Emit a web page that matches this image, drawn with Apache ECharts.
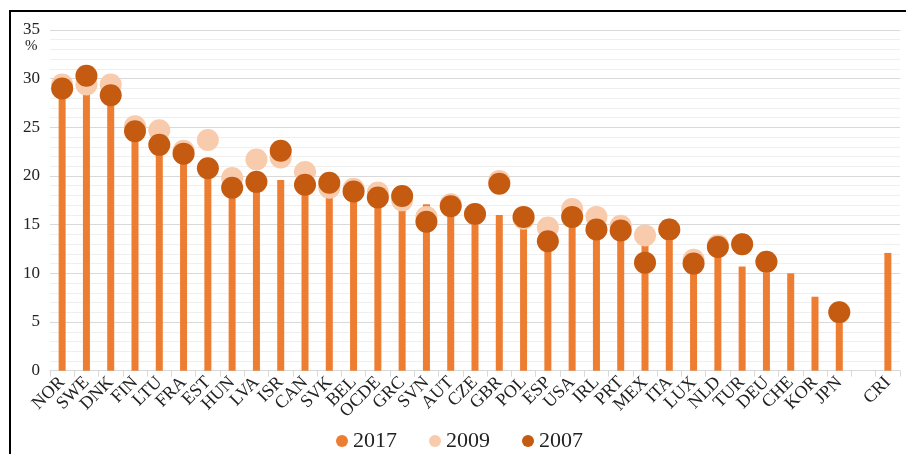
<!DOCTYPE html>
<html>
<head>
<meta charset="utf-8">
<script src="https://cdn.jsdelivr.net/npm/echarts@6/dist/echarts.min.js"></script>
<style>
  html, body { margin: 0; padding: 0; background: #fff; }
  #chart { width: 906px; height: 454px; }
</style>
</head>
<body>
<div id="chart"></div>
<script>
// countries, with an empty slot before CRI
const categories = ['NOR', 'SWE', 'DNK', 'FIN', 'LTU', 'FRA', 'EST', 'HUN', 'LVA', 'ISR',
  'CAN', 'SVK', 'BEL', 'OCDE', 'GRC', 'SVN', 'AUT', 'CZE', 'GBR', 'POL',
  'ESP', 'USA', 'IRL', 'PRT', 'MEX', 'ITA', 'LUX', 'NLD', 'TUR', 'DEU',
  'CHE', 'KOR', 'JPN', '', 'CRI'];

const values2017 = [29.0, 29.0, 28.0, 24.5, 23.0, 22.0, 20.8, 18.8, 19.4, 19.6,
  19.0, 19.0, 18.3, 17.8, 17.8, 17.1, 16.8, 16.0, 16.0, 15.6,
  13.5, 15.7, 14.5, 14.3, 13.0, 14.5, 11.0, 12.7, 10.7, 11.1,
  10.0, 7.6, 6.0, '-', 12.1];

const values2009 = [29.4, 29.4, 29.4, 25.1, 24.7, 22.6, 23.7, 19.8, 21.7, 21.9,
  20.4, 18.8, 18.7, 18.3, 17.5, 15.8, 17.1, 16.1, 19.5, 15.6,
  14.7, 16.6, 15.8, 14.9, 13.9, 14.5, 11.4, 12.9, 13.0, 11.2,
  '-', '-', 6.0, '-', '-'];

const values2007 = [29.0, 30.3, 28.3, 24.6, 23.2, 22.3, 20.8, 18.8, 19.4, 22.6,
  19.1, 19.3, 18.4, 17.8, 17.95, 15.3, 16.9, 16.1, 19.2, 15.8,
  13.3, 15.8, 14.5, 14.4, 11.1, 14.5, 11.0, 12.7, 13.0, 11.2,
  '-', '-', 6.0, '-', '-'];

const yTicks = [0, 5, 10, 15, 20, 25, 30, 35];

const font = "'Liberation Serif', 'Times New Roman', serif";
const chart = echarts.init(document.getElementById('chart'));

chart.setOption({
  animation: false,
  textStyle: { fontFamily: font, color: '#222' },
  grid: { left: 50, right: 6, top: 30, bottom: 83.3 },
  graphic: [
    {
      type: 'rect',
      shape: { x: 10, y: 11, width: 2000, height: 2000 },
      style: { fill: 'none', stroke: '#000', lineWidth: 2 },
      silent: true
    },
    {
      type: 'text',
      left: 25,
      top: 39,
      style: { text: '%', font: '15px ' + font, fill: '#222' }
    }
  ],
  legend: {
    left: 331,
    top: 425,
    icon: 'circle',
    itemWidth: 12,
    itemHeight: 12,
    itemGap: 32,
    textStyle: { fontFamily: font, fontSize: 22, color: '#222' },
    data: ['2017', '2009', '2007']
  },
  xAxis: {
    type: 'category',
    data: categories,
    axisLine: { lineStyle: { color: '#d9d9d9', width: 1 } },
    axisTick: { show: true, length: 6, lineStyle: { color: '#d9d9d9' } },
    axisLabel: {
      interval: 0,
      rotate: 45,
      margin: 9,
      fontFamily: font,
      fontSize: 18,
      color: '#222'
    }
  },
  yAxis: {
    type: 'value',
    min: yTicks[0],
    max: yTicks[yTicks.length - 1],
    interval: 5,
    axisLine: { show: false },
    axisTick: { show: false },
    axisLabel: { margin: 10, fontFamily: font, fontSize: 17, color: '#222' },
    splitLine: { lineStyle: { color: '#d9d9d9', width: 1 } },
    minorTick: { show: false, splitNumber: 5 },
    minorSplitLine: { show: true, lineStyle: { color: '#efefef', width: 1 } }
  },
  series: [
    {
      name: '2017',
      type: 'bar',
      barWidth: 7,
      itemStyle: { color: '#ED7D31' },
      data: values2017
    },
    {
      name: '2009',
      type: 'scatter',
      symbolSize: 22,
      itemStyle: { color: '#F8CBAD', opacity: 1 },
      data: values2009
    },
    {
      name: '2007',
      type: 'scatter',
      symbolSize: 22,
      itemStyle: { color: '#C55A11', opacity: 1 },
      data: values2007
    }
  ]
});
</script>
</body>
</html>
